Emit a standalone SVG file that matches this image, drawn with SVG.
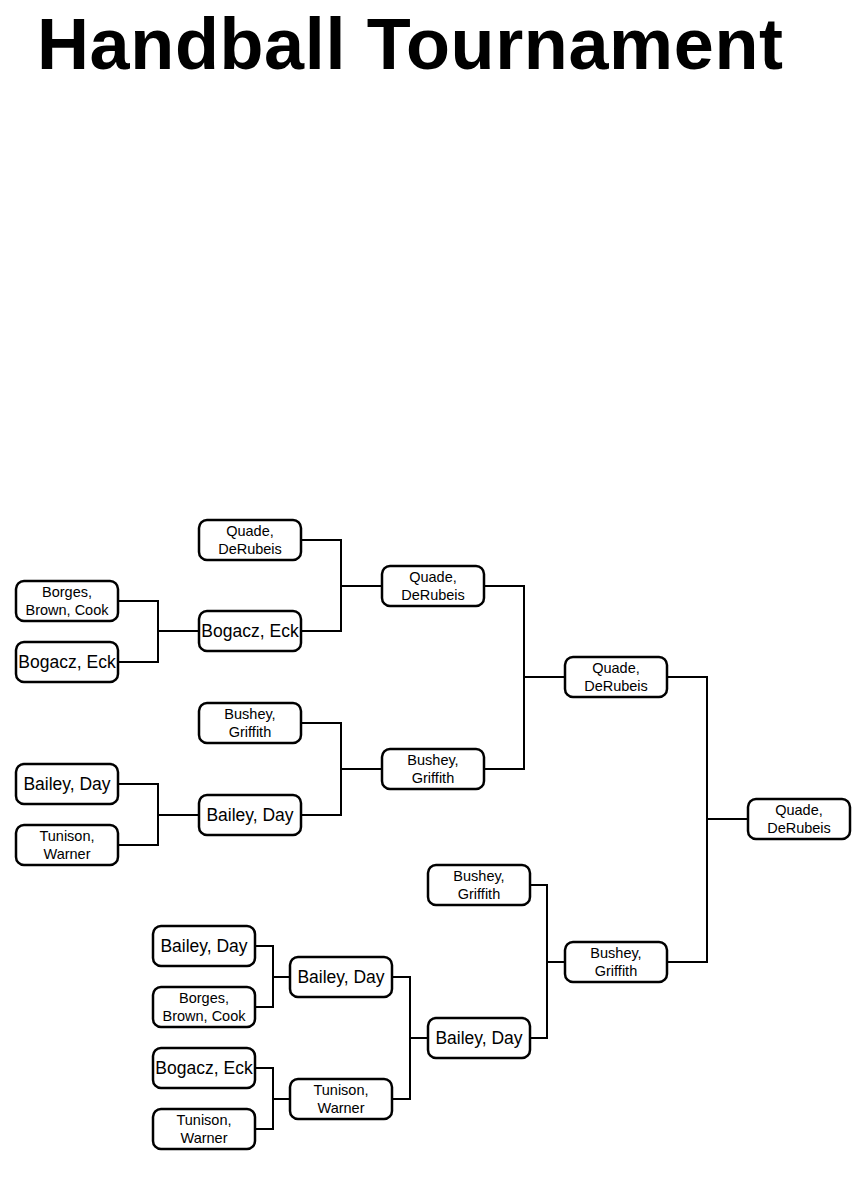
<svg xmlns="http://www.w3.org/2000/svg" width="866" height="1200" viewBox="0 0 866 1200">
<style>
rect{fill:#fff;stroke:#000;stroke-width:2.5}
text{font-family:"Liberation Sans",Arial,sans-serif;text-anchor:middle;fill:#000}
.s{font-size:14.5px}.l{font-size:17.5px}
.c path{fill:none;stroke:#000;stroke-width:2}
</style>
<rect x="0" y="0" width="866" height="1200" style="stroke:none"/>
<text x="37" y="69" style="font-size:72px;font-weight:bold;text-anchor:start" textLength="746">Handball Tournament</text>
<g class="c">
<path d="M118 601H158V662H118M158 631H199"/>
<path d="M301 540H341V631H301M341 586H382"/>
<path d="M118 784H158V845H118M158 815H199"/>
<path d="M301 723H341V815H301M341 769H382"/>
<path d="M484 586H524V769H484M524 677H565"/>
<path d="M667 677H707V962H667M707 819H748"/>
<path d="M530 885H547V1038H530M547 962H565"/>
<path d="M255 946H273V1007H255M273 977H290"/>
<path d="M255 1068H273V1129H255M273 1099H290"/>
<path d="M392 977H410V1099H392M410 1038H428"/>
</g>
<g id="q1"><rect x="199" y="520" width="102" height="40" rx="8"/><text class="s" x="250" y="536">Quade,</text><text class="s" x="250" y="554">DeRubeis</text></g>
<g id="bbc1"><rect x="16" y="581" width="102" height="40" rx="8"/><text class="s" x="67" y="597">Borges,</text><text class="s" x="67" y="615">Brown, Cook</text></g>
<g id="be1"><rect x="16" y="642" width="102" height="40" rx="8"/><text class="l" x="67" y="668">Bogacz, Eck</text></g>
<g id="be2"><rect x="199" y="611" width="102" height="40" rx="8"/><text class="l" x="250" y="637">Bogacz, Eck</text></g>
<g id="q2"><rect x="382" y="566" width="102" height="40" rx="8"/><text class="s" x="433" y="582">Quade,</text><text class="s" x="433" y="600">DeRubeis</text></g>
<g id="bg1"><rect x="199" y="703" width="102" height="40" rx="8"/><text class="s" x="250" y="719">Bushey,</text><text class="s" x="250" y="737">Griffith</text></g>
<g id="bd1"><rect x="16" y="764" width="102" height="40" rx="8"/><text class="l" x="67" y="790">Bailey, Day</text></g>
<g id="tw1"><rect x="16" y="825" width="102" height="40" rx="8"/><text class="s" x="67" y="841">Tunison,</text><text class="s" x="67" y="859">Warner</text></g>
<g id="bd2"><rect x="199" y="795" width="102" height="40" rx="8"/><text class="l" x="250" y="821">Bailey, Day</text></g>
<g id="bg2"><rect x="382" y="749" width="102" height="40" rx="8"/><text class="s" x="433" y="765">Bushey,</text><text class="s" x="433" y="783">Griffith</text></g>
<g id="q3"><rect x="565" y="657" width="102" height="40" rx="8"/><text class="s" x="616" y="673">Quade,</text><text class="s" x="616" y="691">DeRubeis</text></g>
<g id="q4"><rect x="748" y="799" width="102" height="40" rx="8"/><text class="s" x="799" y="815">Quade,</text><text class="s" x="799" y="833">DeRubeis</text></g>
<g id="bg3"><rect x="428" y="865" width="102" height="40" rx="8"/><text class="s" x="479" y="881">Bushey,</text><text class="s" x="479" y="899">Griffith</text></g>
<g id="bg4"><rect x="565" y="942" width="102" height="40" rx="8"/><text class="s" x="616" y="958">Bushey,</text><text class="s" x="616" y="976">Griffith</text></g>
<g id="bd3"><rect x="153" y="926" width="102" height="40" rx="8"/><text class="l" x="204" y="952">Bailey, Day</text></g>
<g id="bbc2"><rect x="153" y="987" width="102" height="40" rx="8"/><text class="s" x="204" y="1003">Borges,</text><text class="s" x="204" y="1021">Brown, Cook</text></g>
<g id="bd4"><rect x="290" y="957" width="102" height="40" rx="8"/><text class="l" x="341" y="983">Bailey, Day</text></g>
<g id="be3"><rect x="153" y="1048" width="102" height="40" rx="8"/><text class="l" x="204" y="1074">Bogacz, Eck</text></g>
<g id="tw2"><rect x="153" y="1109" width="102" height="40" rx="8"/><text class="s" x="204" y="1125">Tunison,</text><text class="s" x="204" y="1143">Warner</text></g>
<g id="tw3"><rect x="290" y="1079" width="102" height="40" rx="8"/><text class="s" x="341" y="1095">Tunison,</text><text class="s" x="341" y="1113">Warner</text></g>
<g id="bd5"><rect x="428" y="1018" width="102" height="40" rx="8"/><text class="l" x="479" y="1044">Bailey, Day</text></g>
</svg>
